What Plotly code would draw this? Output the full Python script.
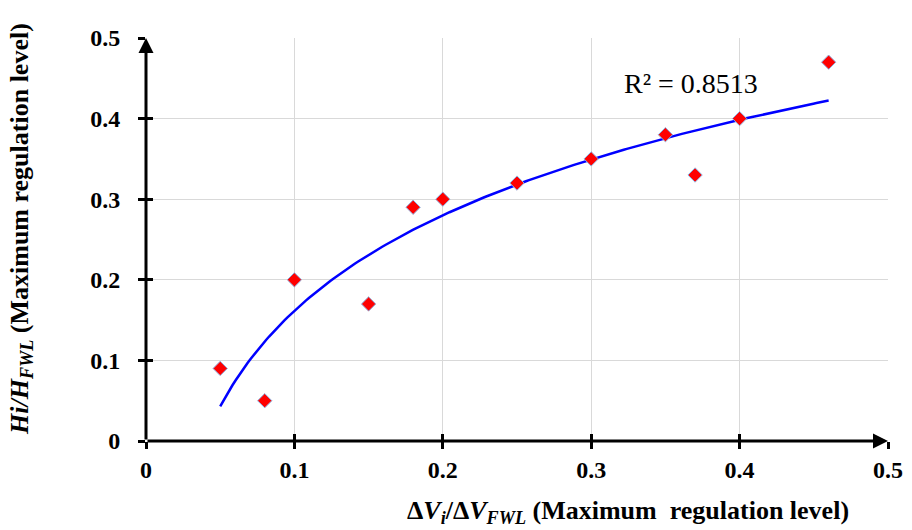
import numpy as np
import plotly.graph_objects as go

x_vals = [0.05, 0.08, 0.10, 0.15, 0.18, 0.20, 0.25, 0.30, 0.35, 0.37, 0.40, 0.46]
y_vals = [0.09, 0.05, 0.20, 0.17, 0.29, 0.30, 0.32, 0.35, 0.38, 0.33, 0.40, 0.47]
tick_vals = [0, 0.1, 0.2, 0.3, 0.4, 0.5]
tick_text = ["0", "0.1", "0.2", "0.3", "0.4", "0.5"]
r2_label = "R² = 0.8513"
x_title = "<b>Δ<i>V</i><sub><i>i</i></sub>/Δ<i>V</i><sub><i>FWL</i></sub> (Maximum  regulation level)</b>"
y_title = "<b><i>Hi/H</i><sub><i>FWL</i></sub> (Maximum regulation level)</b>"

# logarithmic trendline fitted to the data
xa = np.array(x_vals)
ya = np.array(y_vals)
a, b = np.polyfit(np.log(xa), ya, 1)
xt = np.linspace(xa.min(), xa.max(), 200)
yt = a * np.log(xt) + b

FONT = "Liberation Serif"
bold_ticks = ["<b>%s</b>" % t for t in tick_text]

fig = go.Figure()
fig.add_trace(go.Scatter(x=xt, y=yt, mode="lines",
                         line=dict(color="#0000ff", width=2.5), showlegend=False,
                         hoverinfo="skip"))
fig.add_trace(go.Scatter(x=x_vals, y=y_vals, mode="markers",
                         marker=dict(symbol="diamond", size=11, color="#ff0000",
                                     line=dict(color="#8db3e2", width=1)),
                         showlegend=False))
# invisible trace on overlay axes (for inner tick marks)
fig.add_trace(go.Scatter(x=[None], y=[None], xaxis="x2", yaxis="y2", showlegend=False))

tick_style = dict(tickvals=tick_vals, ticklen=7, tickwidth=2.5, tickcolor="black")

fig.update_layout(
    width=912, height=530,
    margin=dict(l=146, r=24, t=38, b=89, autoexpand=False),
    plot_bgcolor="white", paper_bgcolor="white",
    font=dict(family=FONT, color="black"),
    xaxis=dict(range=[0, 0.5], ticktext=bold_ticks, **tick_style, ticks="outside",
               showgrid=True, gridcolor="#d9d9d9", gridwidth=1,
               zeroline=False, showline=False, automargin=False,
               ticklabelstandoff=0,
               tickfont=dict(family=FONT, size=24, color="black")),
    yaxis=dict(range=[0, 0.5], ticktext=bold_ticks, **tick_style, ticks="outside",
               showgrid=True, gridcolor="#d9d9d9", gridwidth=1,
               zeroline=False, showline=False, automargin=False,
               ticklabelstandoff=13,
               tickfont=dict(family=FONT, size=24, color="black")),
    xaxis2=dict(range=[0, 0.5], overlaying="x", anchor="y", side="bottom",
                **tick_style, ticks="inside", showticklabels=False,
                showgrid=False, zeroline=False, showline=False),
    yaxis2=dict(range=[0, 0.5], overlaying="y", anchor="x", side="left",
                **tick_style, ticks="inside", showticklabels=False,
                showgrid=False, zeroline=False, showline=False),
)

# axis lines with arrowheads
fig.add_annotation(x=0.5, y=0, ax=0, ay=0, xref="x", yref="y", axref="x", ayref="y",
                   showarrow=True, arrowhead=2, arrowsize=1, arrowwidth=3,
                   arrowcolor="black", text="")
fig.add_annotation(x=0, y=0.5, ax=0, ay=0, xref="x", yref="y", axref="x", ayref="y",
                   showarrow=True, arrowhead=2, arrowsize=1, arrowwidth=3,
                   arrowcolor="black", text="")

# axis titles
fig.add_annotation(x=0.65, y=0, xref="paper", yref="paper", yanchor="middle",
                   yshift=-71, text=x_title, showarrow=False,
                   font=dict(family=FONT, size=26, color="black"))
fig.add_annotation(x=0, y=0.526, xref="paper", yref="paper", xanchor="center",
                   xshift=-125, text=y_title, showarrow=False, textangle=-90,
                   font=dict(family=FONT, size=26, color="black"))

fig.add_annotation(x=0.367, y=0.443, xref="x", yref="y", text=r2_label, showarrow=False,
                   font=dict(family=FONT, size=28, color="black"))

fig.write_html("out.html", config={"displayModeBar": False},
               post_script="document.body.style.margin='0';document.body.style.overflow='hidden';")
